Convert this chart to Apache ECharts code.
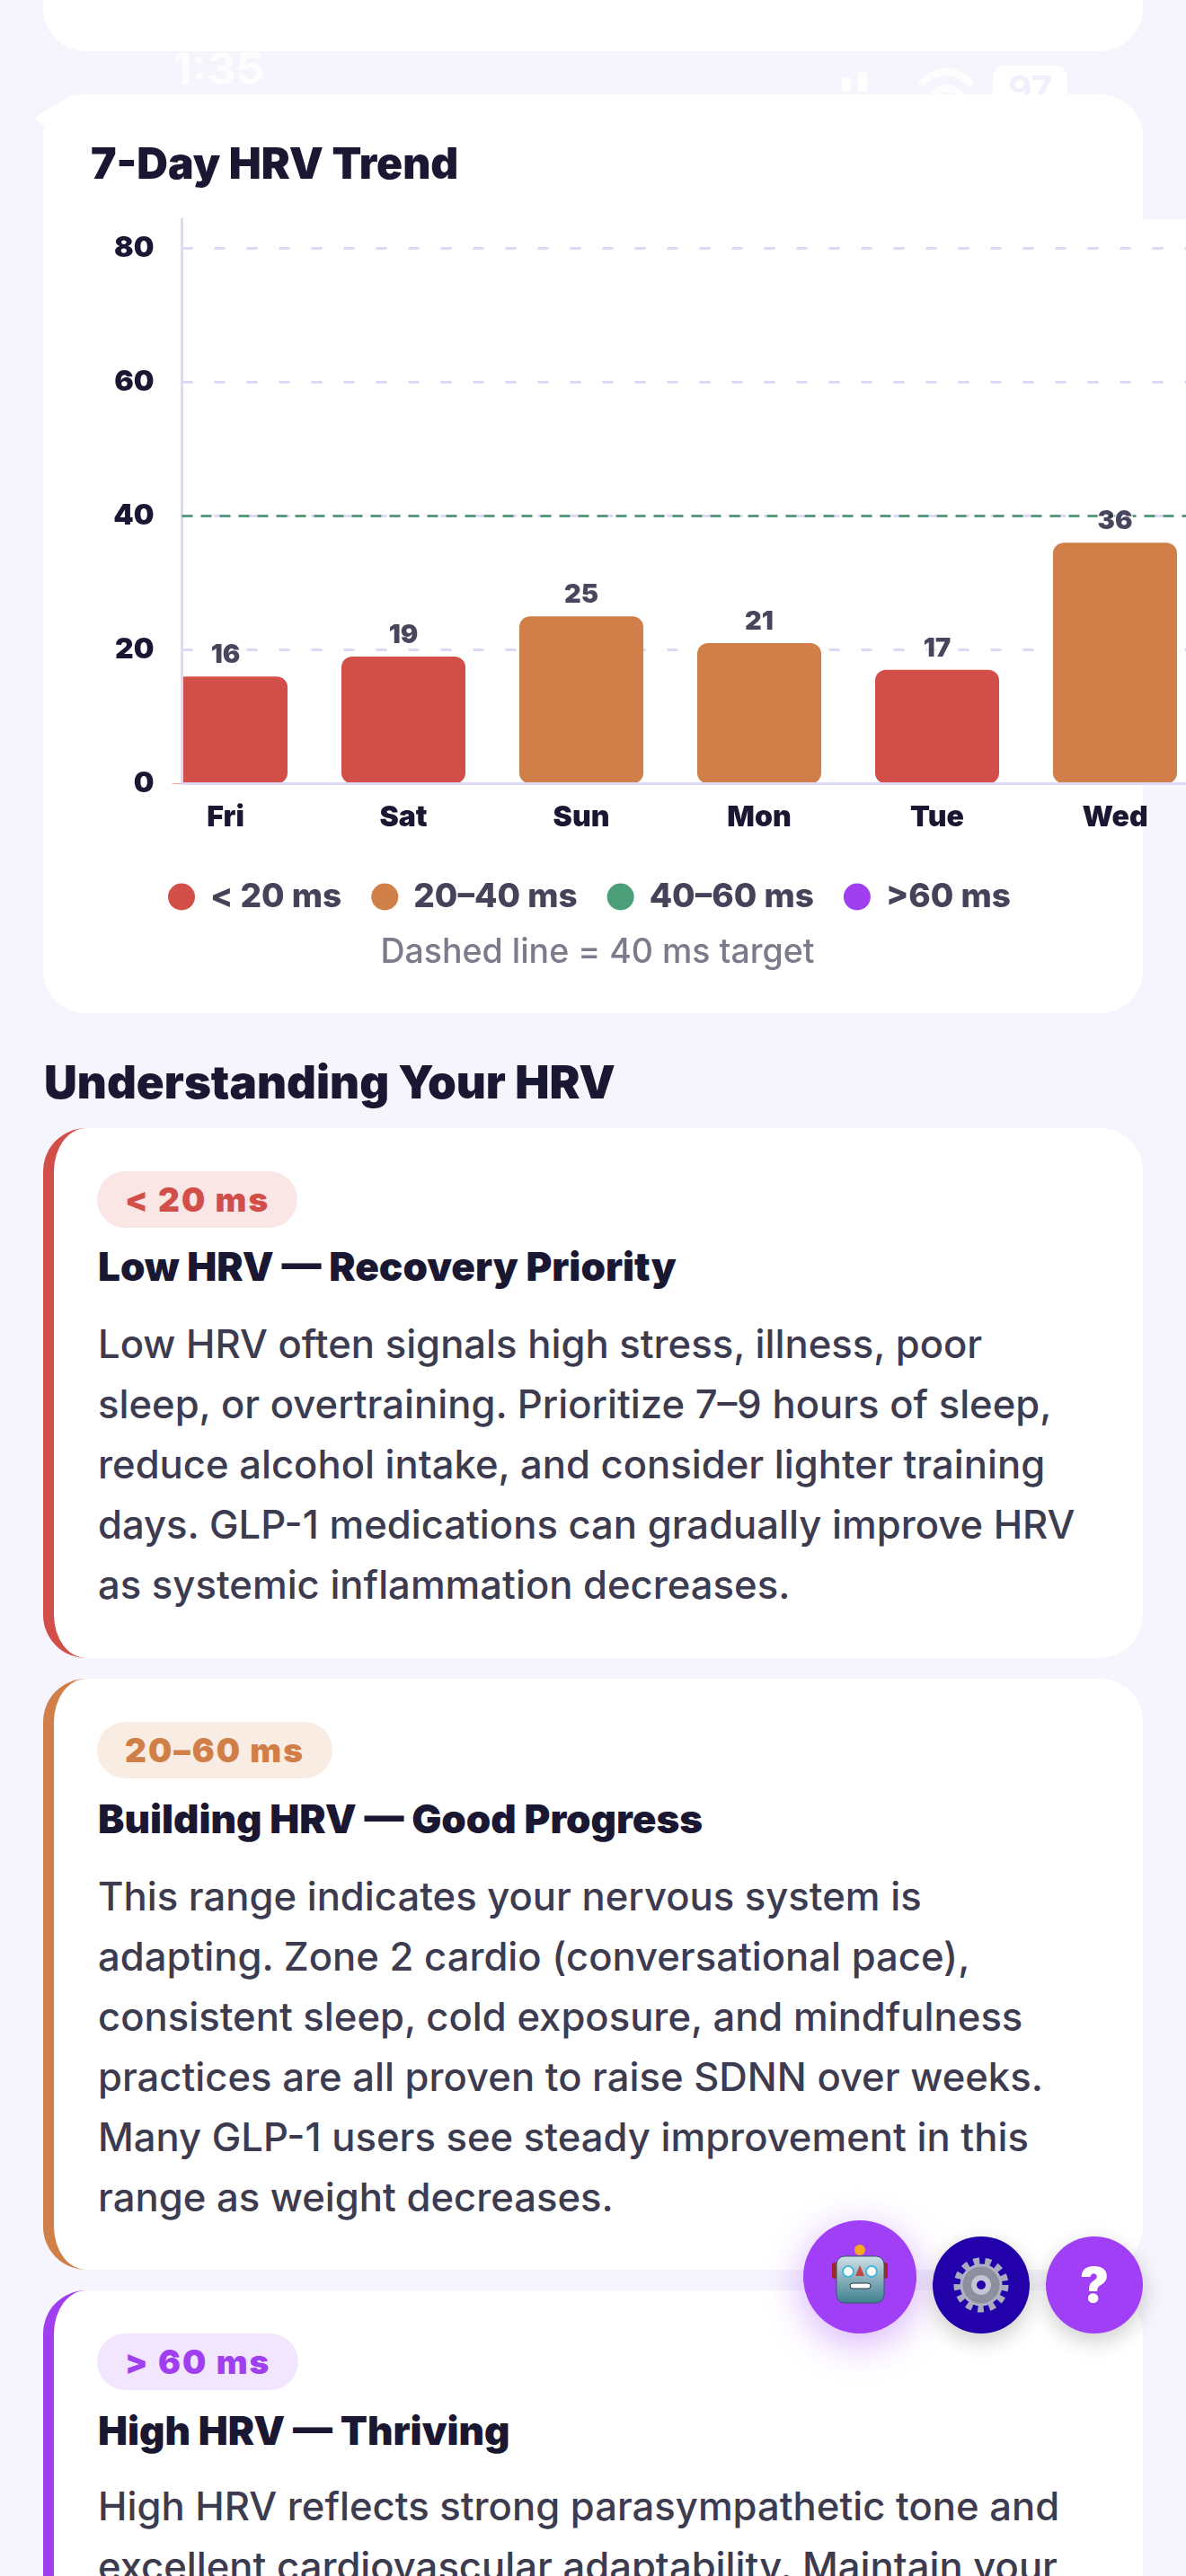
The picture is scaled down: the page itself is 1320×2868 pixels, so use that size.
<!DOCTYPE html>
<html>
<head>
<meta charset="utf-8">
<style>
html,body{margin:0;padding:0;background:#f6f5fe;}
body{position:relative;width:1320px;height:2868px;overflow:hidden;font-family:Inter,"Noto Sans",sans-serif;}
.abs{position:absolute;}
.ghost{position:absolute;color:#fff;font-weight:700;opacity:.85;}
.card{position:absolute;left:48px;width:1224px;background:#fff;border-radius:48px;box-sizing:border-box;}
.zone{border-left:12px solid;}
.pill{position:absolute;left:48px;height:63px;line-height:63px;border-radius:32px;padding:0 31px;font-size:37px;font-weight:900;letter-spacing:2px;}
.name{position:absolute;left:49px;font-size:44px;line-height:60px;font-weight:900;color:#1a1733;white-space:nowrap;}
.body{position:absolute;left:49px;font-size:43.6px;line-height:67px;font-weight:500;color:#3d3b50;white-space:nowrap;}
h2{position:absolute;margin:0;left:49px;top:1171px;font-size:51px;line-height:68px;font-weight:900;color:#1a1733;}
.fab{position:absolute;border-radius:50%;}
#chart{position:absolute;left:0;top:0;width:1320px;height:1140px;}
</style>
</head>
<body>
<!-- status bar showing through behind the cards -->
<div class="ghost" style="left:192px;top:46px;font-size:50px;line-height:60px;">1:35</div>
<div class="ghost abs" style="left:937px;top:86px;width:10px;height:16px;background:#fff;border-radius:3px;"></div>
<div class="ghost abs" style="left:955px;top:80px;width:10px;height:22px;background:#fff;border-radius:3px;"></div>
<svg class="abs" style="left:1020px;top:70px;opacity:.85;" width="70" height="40" fill="none" stroke="#fff" stroke-width="8"><path d="M4 24 Q33 -4 62 24"/><path d="M17 36 Q33 20 49 36"/></svg>
<div class="abs" style="left:1105px;top:73px;width:83px;height:60px;background:#fff;border-radius:14px;color:#f1effc;font-size:40px;line-height:52px;font-weight:700;text-align:center;">97</div>
<div class="abs" style="left:38px;top:100px;width:60px;height:50px;background:#fff;clip-path:polygon(0 62%,75% 8%,90% 100%,40% 100%);"></div>

<div class="card" style="top:-100px;height:157px;"></div>
<div class="card" style="top:105px;height:1023px;"></div>
<div id="chart"></div>

<h2>Understanding Your HRV</h2>

<div class="card zone" style="top:1256px;height:590px;border-color:#d24e48;">
  <div class="pill" style="top:48px;color:#d24e48;background:#f9e6e5;">&lt; 20 ms</div>
  <div class="name" style="top:124px;">Low HRV — Recovery Priority</div>
  <div class="body" style="top:207px;">Low HRV often signals high stress, illness, poor<br>sleep, or overtraining. Prioritize 7–9 hours of sleep,<br>reduce alcohol intake, and consider lighter training<br>days. GLP-1 medications can gradually improve HRV<br>as systemic inflammation decreases.</div>
</div>
<div class="card zone" style="top:1869px;height:658px;border-color:#cf7f47;">
  <div class="pill" style="top:48px;color:#cf7f47;background:#f9ece3;">20–60 ms</div>
  <div class="name" style="top:126px;">Building HRV — Good Progress</div>
  <div class="body" style="top:209px;">This range indicates your nervous system is<br>adapting. Zone 2 cardio (conversational pace),<br>consistent sleep, cold exposure, and mindfulness<br>practices are all proven to raise SDNN over weeks.<br>Many GLP-1 users see steady improvement in this<br>range as weight decreases.</div>
</div>
<div class="card zone" style="top:2550px;height:500px;border-color:#a03ff0;">
  <div class="pill" style="top:48px;color:#a03ff0;background:#f1e6fd;">&gt; 60 ms</div>
  <div class="name" style="top:126px;">High HRV — Thriving</div>
  <div class="body" style="top:207px;">High HRV reflects strong parasympathetic tone and<br>excellent cardiovascular adaptability. Maintain your</div>
</div>

<!-- floating buttons -->
<div class="fab" style="left:894px;top:2472px;width:126px;height:126px;background:#a03ff5;box-shadow:0 10px 44px rgba(160,63,245,.42);">
  <svg width="126" height="126" viewBox="0 0 126 126">
    <defs><linearGradient id="face" x1="0" y1="0" x2="0" y2="1"><stop offset="0" stop-color="#cfe0e6"/><stop offset="1" stop-color="#3f7f8f"/></linearGradient></defs>
    <circle cx="63" cy="33" r="6" fill="#f5a623"/>
    <rect x="32" y="47" width="6" height="18" rx="3" fill="#a32626"/><rect x="88" y="47" width="6" height="18" rx="3" fill="#a32626"/>
    <rect x="37" y="40" width="53" height="52" rx="9" fill="url(#face)" stroke="#2f5a68" stroke-width="1"/>
    <circle cx="50" cy="57" r="6" fill="#fff" stroke="#45b5dc" stroke-width="2"/><circle cx="76" cy="57" r="6" fill="#fff" stroke="#45b5dc" stroke-width="2"/>
    <path d="M63 50 L68 62 L58 62 Z" fill="#c04848"/>
    <rect x="52" y="70" width="23" height="6" rx="3" fill="#fff" stroke="#234" stroke-width="1"/>
  </svg>
</div>
<div class="fab" style="left:1038px;top:2490px;width:108px;height:108px;background:#2200aa;box-shadow:0 8px 24px rgba(0,0,0,.2);">
  <svg width="108" height="108" viewBox="0 0 108 108">
    <circle cx="54" cy="54" r="26" fill="none" stroke="#a9abc0" stroke-width="9" stroke-dasharray="6.5 6.1"/>
    <circle cx="54" cy="54" r="22" fill="#8d8f9f" stroke="#b0b2c4" stroke-width="3"/>
    <circle cx="54" cy="54" r="8" fill="#2200aa" stroke="#c3c5d6" stroke-width="6"/>
  </svg>
</div>
<div class="fab" style="left:1164px;top:2490px;width:108px;height:108px;background:#a03ff5;box-shadow:0 8px 24px rgba(0,0,0,.2);color:#fff;font-size:54px;font-weight:900;line-height:108px;text-align:center;">?</div>

<script src="https://cdn.jsdelivr.net/npm/echarts@6/dist/echarts.min.js"></script>
<script>
// chart data
var days = ["Fri","Sat","Sun","Mon","Tue","Wed"];
var hrvValues = [16,19,25,21,17,36];
var yTicks = [0,20,40,60,80];
var targetValue = 40;

// bands for legend and bar colour
var bandNames = ["< 20 ms","20–40 ms","40–60 ms",">60 ms"];
var bandColors = ["#d24e48","#cf7f47","#4c9e78","#a03ff0"];
var bandTops = [20,40,60,Infinity];

var ink = "#1a1733";
var axisColor = "#dcd8f5";
var labelFont = "Inter, 'Noto Sans', sans-serif";

function bandOf(v){
	for(var b=0;b<bandTops.length;b++){
		if(v<bandTops[b]) return b;
	}
}

// the chart is scrolled in the reference: Fri is cut by the y axis, so the x range starts below 0
var barSeries = bandNames.map(function(name,b){
	var points = [];
	hrvValues.forEach(function(v,i){
		if(bandOf(v)===b) points.push([i,v]);
	});
	var s = {
		name:name,
		type:"bar",
		stack:"hrv",
		barWidth:138,
		data:points,
		itemStyle:{color:bandColors[b],borderRadius:12}
	};
	if(b===0){
		s.markLine = {
			silent:true,
			symbol:"none",
			label:{show:false},
			lineStyle:{color:"#5a9a80",type:[12,9],width:3},
			data:[{yAxis:targetValue}]
		};
	}
	return s;
});

// value labels sit on their own points so they stay centred on the day
var labelSeries = {
	type:"scatter",
	z:6,
	symbolSize:1,
	itemStyle:{color:"transparent"},
	data:hrvValues.map(function(v,i){return [i,v];}),
	label:{
		show:true,
		position:"top",
		distance:9,
		formatter:function(p){return p.value[1];},
		color:ink,
		fontFamily:labelFont,
		fontSize:29,
		fontWeight:900,
		textBorderColor:"#fff",
		textBorderWidth:3
	}
};

var myChart = echarts.init(document.getElementById("chart"));
myChart.setOption({
	animation:false,
	title:[
		{text:"7-Day HRV Trend",left:96,top:156,textStyle:{color:ink,fontFamily:labelFont,fontSize:48,fontWeight:900}},
		{text:"Dashed line = 40 ms target",left:660,top:1037,textAlign:"center",textStyle:{color:"#7c7b8c",fontFamily:labelFont,fontSize:37.5,fontWeight:500}}
	],
	legend:{
		data:bandNames,
		left:182,
		top:975,
		icon:"circle",
		itemWidth:30,
		itemHeight:30,
		itemGap:33,
		selectedMode:false,
		textStyle:{color:"#45435a",fontFamily:labelFont,fontSize:37,fontWeight:800,padding:[0,0,0,12]}
	},
	grid:{left:202.5,top:244,right:0,height:628.5,show:true,backgroundColor:"#fff",borderWidth:0},
	// white strip left of the axis hides the part of Fri that is scrolled out
	graphic:{
		z:3,
		elements:[{type:"rect",z:3,shape:{x:172,y:700,width:29,height:172},style:{fill:"#fff"},silent:true}]
	},
	xAxis:{
		type:"value",
		min:-0.245,
		max:5.399,
		z:4,
		splitLine:{show:false},
		axisTick:{show:false},
		axisLine:{show:true,lineStyle:{color:axisColor,width:3}},
		axisLabel:{
			customValues:days.map(function(d,i){return i;}),
			formatter:function(v){return days[v];},
			margin:22,
			color:ink,
			fontFamily:labelFont,
			fontSize:32,
			fontWeight:900
		}
	},
	yAxis:[{
		type:"value",
		min:0,
		max:84.36,
		interval:20,
		axisTick:{show:false},
		axisLine:{show:false,onZero:false},
		splitLine:{show:true,showMinLine:false,showMaxLine:false,lineStyle:{color:axisColor,type:[12,24],width:3}},
		axisLabel:{
			customValues:yTicks,
			margin:31,
			color:ink,
			fontFamily:labelFont,
			fontSize:32,
			fontWeight:900
		}
	},{
		// same scale, only the line, drawn above the bars
		type:"value",
		position:"left",
		min:0,
		max:84.36,
		z:4,
		axisTick:{show:false},
		axisLabel:{show:false},
		splitLine:{show:false},
		axisLine:{show:true,onZero:false,lineStyle:{color:axisColor,width:3}}
	}],
	series:barSeries.concat([labelSeries])
});
</script>
</body>
</html>
